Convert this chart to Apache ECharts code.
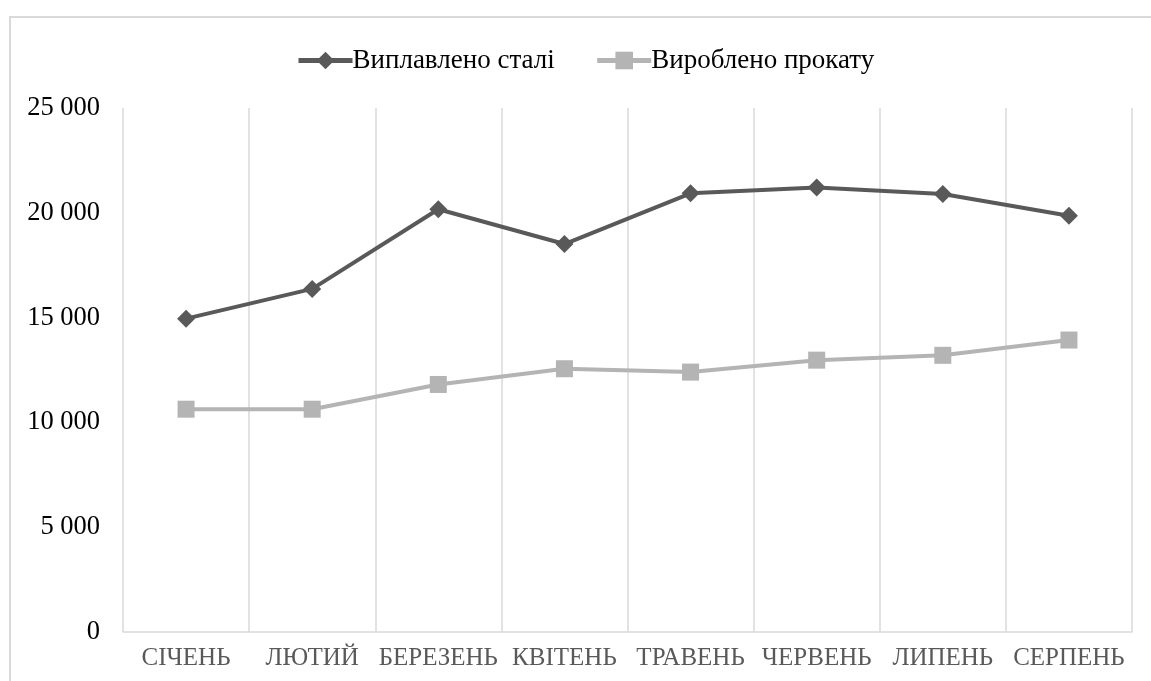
<!DOCTYPE html>
<html>
<head>
<meta charset="utf-8">
<script src="https://cdn.jsdelivr.net/npm/echarts@6/dist/echarts.min.js"></script>
<style>
html,body{margin:0;padding:0;background:#fff;}
#chart{width:1151px;height:681px;}
</style>
</head>
<body>
<div id="chart"></div>
<script>
const categories = ['СІЧЕНЬ','ЛЮТИЙ','БЕРЕЗЕНЬ','КВІТЕНЬ','ТРАВЕНЬ','ЧЕРВЕНЬ','ЛИПЕНЬ','СЕРПЕНЬ'];
const steel = [14950, 16370, 20170, 18510, 20930, 21210, 20900, 19860];
const rolled = [10630, 10630, 11810, 12560, 12400, 12970, 13200, 13930];
const seriesNames = ['Виплавлено сталі', 'Вироблено прокату'];
const yTicks = {min: 0, max: 25000, interval: 5000};

const font = '"Liberation Serif", "Times New Roman", serif';
const chart = echarts.init(document.getElementById('chart'));
chart.setOption({
  backgroundColor: '#fff',
  animation: false,
  graphic: [{
    type: 'rect', z: -10, silent: true,
    shape: {x: 10, y: 17, width: 1300, height: 800},
    style: {fill: 'none', stroke: '#d9d9d9', lineWidth: 2}
  }],
  legend: {
    top: 42, left: 291,
    itemWidth: 54, itemHeight: 22, itemGap: 40,
    lineStyle: {width: 5},
    textStyle: {fontFamily: font, fontSize: 27, color: '#000', padding: [0, 0, 0, -5]},
    data: seriesNames
  },
  grid: {left: 123, right: 19, top: 108, bottom: 49},
  xAxis: {
    type: 'category', data: categories, boundaryGap: true,
    axisLine: {lineStyle: {color: '#d9d9d9', width: 1.5}},
    axisTick: {show: false},
    splitLine: {show: true, lineStyle: {color: '#d9d9d9', width: 1.5}},
    axisLabel: {fontFamily: font, fontSize: 25, color: '#595959', margin: 14, interval: 0}
  },
  yAxis: {
    type: 'value', min: yTicks.min, max: yTicks.max, interval: yTicks.interval,
    axisLine: {show: false}, axisTick: {show: false},
    splitLine: {show: false},
    axisLabel: {
      fontFamily: font, fontSize: 26.5, color: '#000', margin: 23,
      formatter: v => String(v).replace(/\B(?=(\d{3})+(?!\d))/g, ' ')
    }
  },
  series: [{
    name: seriesNames[0], type: 'line', data: steel,
    symbol: 'diamond', symbolSize: 18,
    lineStyle: {color: '#595959', width: 4},
    itemStyle: {color: '#595959'}
  }, {
    name: seriesNames[1], type: 'line', data: rolled,
    symbol: 'rect', symbolSize: 17,
    lineStyle: {color: '#b4b4b4', width: 4},
    itemStyle: {color: '#b4b4b4'}
  }]
});
</script>
</body>
</html>
